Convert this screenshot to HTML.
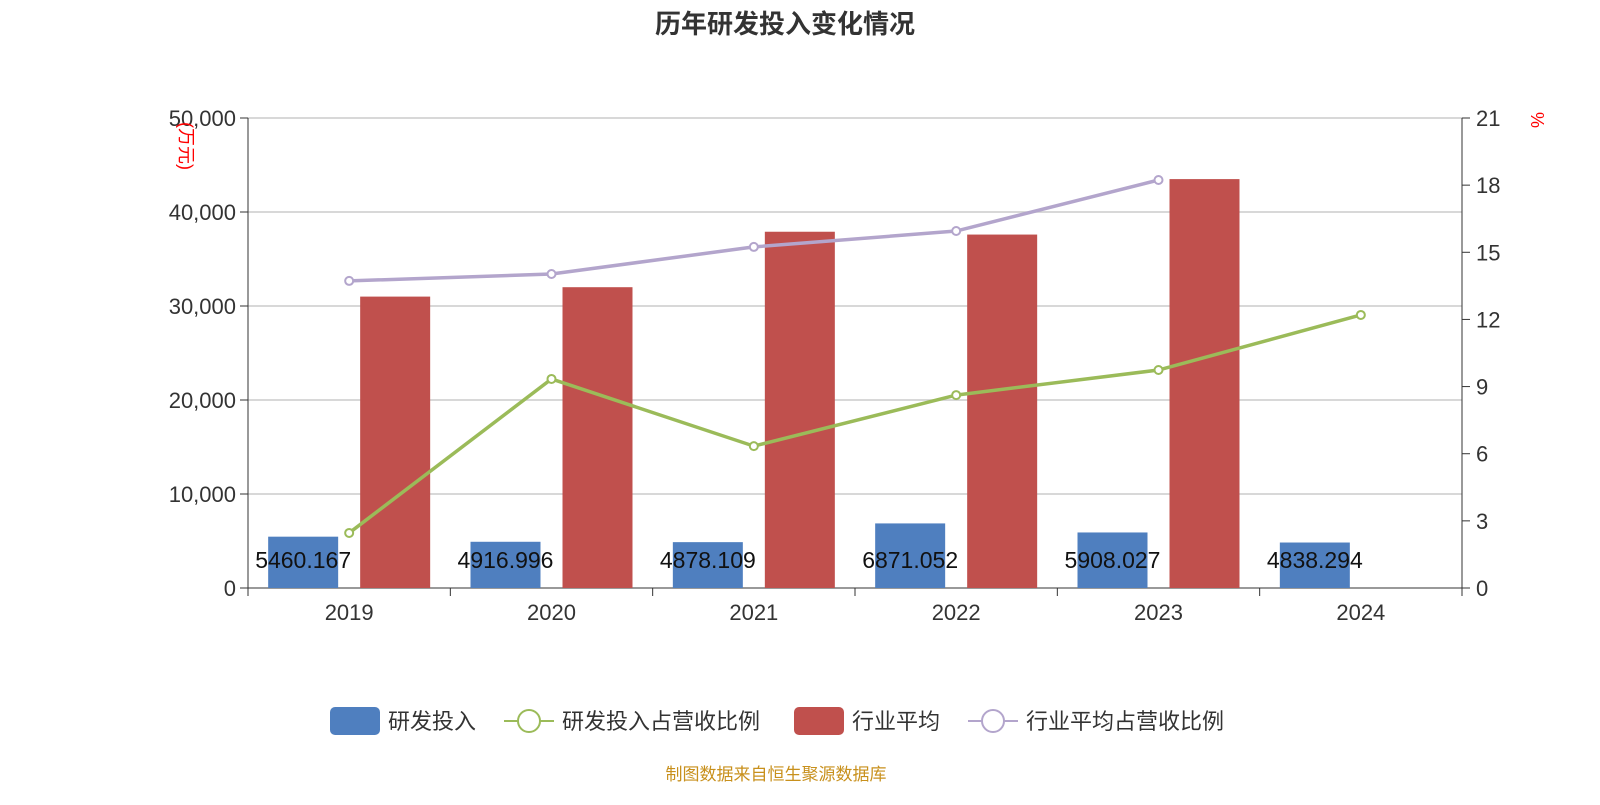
<!DOCTYPE html>
<html><head><meta charset="utf-8">
<style>
body{margin:0;background:#fff;width:1600px;height:800px;overflow:hidden;font-family:"Liberation Sans","Noto Sans CJK SC",sans-serif;}
</style></head>
<body>
<svg id="chart" width="1600" height="800" xmlns="http://www.w3.org/2000/svg" font-family="Liberation Sans, Noto Sans CJK SC, sans-serif"></svg>
<script>
const categories=["2019","2020","2021","2022","2023","2024"];
const rdValues=[5460.167,4916.996,4878.109,6871.052,5908.027,4838.294];
const industryValues=[31000,32000,37900,37600,43500,null];
const rdRatio=[2.46,9.34,6.34,8.62,9.74,12.2];
const industryRatio=[13.72,14.03,15.24,15.95,18.23,null];
const leftTicks=[0,10000,20000,30000,40000,50000];
const rightTicks=[0,3,6,9,12,15,18,21];

const svg=document.getElementById('chart');
const NS='http://www.w3.org/2000/svg';
const L=248,R=1462,T=118,B=588;
const band=(R-L)/categories.length;
const yL=v=>B-(v/50000)*(B-T);
const yR=v=>B-(v/21)*(B-T);
const xC=i=>L+band*(i+0.5);
function add(tag,attrs,parent){const e=document.createElementNS(NS,tag);for(const k in attrs)e.setAttribute(k,attrs[k]);(parent||svg).appendChild(e);return e;}
function txt(s,attrs){const e=add('text',attrs);e.textContent=s;return e;}

let t=txt('历年研发投入变化情况',{x:785,y:33,'text-anchor':'middle','font-size':26,'font-weight':'bold',fill:'#333'});


leftTicks.forEach(v=>{
  const y=yL(v);
  if(v>0){const g=add('line',{x1:L,x2:R,y1:y,y2:y,stroke:'#ccc','stroke-width':1.5});}
  add('line',{x1:L-8,x2:L,y1:y,y2:y,stroke:'#333'});
  const e=txt(v.toLocaleString('en-US'),{x:L-12,y:y+8,'text-anchor':'end','font-size':22,fill:'#333'});
  
});
rightTicks.forEach(v=>{
  const y=yR(v);
  add('line',{x1:R,x2:R+8,y1:y,y2:y,stroke:'#333'});
  const e=txt(String(v),{x:R+14,y:y+8,'font-size':22,fill:'#333'});
  
});
add('line',{x1:L,x2:L,y1:T,y2:B,stroke:'#333'});
add('line',{x1:R,x2:R,y1:T,y2:B,stroke:'#333'});
add('line',{x1:L,x2:R,y1:B,y2:B,stroke:'#333'});
let u=txt('(万元)',{x:0,y:0,'font-size':18,fill:'red',transform:`translate(180,122) rotate(90)`});

u=txt('%',{x:1532,y:125,'font-size':18,fill:'red',transform:'rotate(90 1538 118)'});


categories.forEach((c,i)=>{
  add('line',{x1:L+band*i,x2:L+band*i,y1:B,y2:B+8,stroke:'#333'});
  const e=txt(c,{x:xC(i),y:620,'text-anchor':'middle','font-size':22,fill:'#333'});
  
});
add('line',{x1:R,x2:R,y1:B,y2:B+8,stroke:'#333'});

const bw=70;
categories.forEach((c,i)=>{
  const x=xC(i);
  const b=add('rect',{x:x-46-bw/2,y:yL(rdValues[i]),width:bw,height:B-yL(rdValues[i]),fill:'#4f7fbf'});
  
  if(industryValues[i]!=null){
    const r=add('rect',{x:x+46-bw/2,y:yL(industryValues[i]),width:bw,height:B-yL(industryValues[i]),fill:'#c0504d'});
    
  }
  const lb=txt(String(rdValues[i]),{x:x-46,y:568,'text-anchor':'middle','font-size':23,fill:'#111'});
  
});

function line(vals,color,name){
  const pts=[];vals.forEach((v,i)=>{if(v!=null)pts.push([xC(i),yR(v)]);});
  const p=add('polyline',{points:pts.map(p=>p.join(',')).join(' '),fill:'none',stroke:color,'stroke-width':3.5});
  
  pts.forEach(q=>{const c=add('circle',{cx:q[0],cy:q[1],r:4,fill:'#fff',stroke:color,'stroke-width':2});
    });
}
line(industryRatio,'#b3a5cc','industry-ratio');
line(rdRatio,'#9bbb59','rd-ratio');

// legend
const lg=[
  {n:'研发投入',t:'bar',c:'#4f7fbf',x:330},
  {n:'研发投入占营收比例',t:'line',c:'#9bbb59',x:504},
  {n:'行业平均',t:'bar',c:'#c0504d',x:794},
  {n:'行业平均占营收比例',t:'line',c:'#b3a5cc',x:968}
];
lg.forEach(o=>{
  const g=add('g',{});
  if(o.t==='bar')add('rect',{x:o.x,y:707,width:50,height:28,rx:5,fill:o.c},g);
  else{add('line',{x1:o.x,x2:o.x+50,y1:721,y2:721,stroke:o.c,'stroke-width':2},g);
       add('circle',{cx:o.x+25,cy:721,r:11,fill:'#fff',stroke:o.c,'stroke-width':2},g);}
  const e=add('text',{x:o.x+58,y:729,'font-size':22,fill:'#333'},g);e.textContent=o.n;
});
const s=txt('制图数据来自恒生聚源数据库',{x:776,y:780,'text-anchor':'middle','font-size':17,fill:'#c8901c'});

</script>
</body></html>
